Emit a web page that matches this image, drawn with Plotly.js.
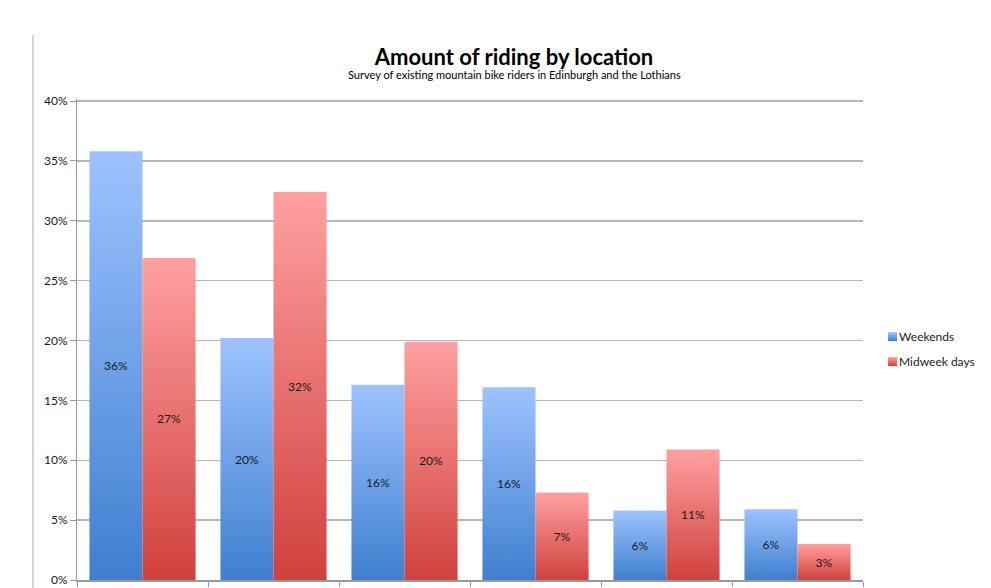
<!DOCTYPE html>
<html>
<head>
<meta charset="utf-8">
<script src="https://cdn.plot.ly/plotly-3.0.1.min.js"></script>
<style>
html,body{margin:0;padding:0;background:#fff;}
#chart{width:991px;height:588px;}
</style>
</head>
<body>
<div id="chart"></div>
<script>
var categories = ["Location 1", "Location 2", "Location 3", "Location 4", "Location 5", "Location 6"];
var weekends = [35.8, 20.2, 16.3, 16.1, 5.8, 5.9];
var midweek = [26.9, 32.4, 19.9, 7.3, 10.9, 3.0];
var weekendLabels = ["36%", "20%", "16%", "16%", "6%", "6%"];
var midweekLabels = ["27%", "32%", "20%", "7%", "11%", "3%"];
var yTickVals = [0, 5, 10, 15, 20, 25, 30, 35, 40];
var yTickText = ["0%", "5%", "10%", "15%", "20%", "25%", "30%", "35%", "40%"];
var titleText = "Amount of riding by location";
var subtitleText = "Survey of existing mountain bike riders in Edinburgh and the Lothians";

var FONT = "Lato, 'Open Sans', sans-serif";

var traces = [
  {
    type: "bar", name: "Weekends", x: categories, y: weekends,
    text: weekendLabels, textposition: "inside", insidetextanchor: "middle",
    textangle: 0, constraintext: "none",
    textfont: {family: FONT, size: 12, color: "#1a1a1a"},
    marker: {color: "#6a9ee8", line: {width: 0}},
    legendgroup: "a", hoverinfo: "none"
  },
  {
    type: "bar", name: "Midweek days", x: categories, y: midweek,
    text: midweekLabels, textposition: "inside", insidetextanchor: "middle",
    textangle: 0, constraintext: "none",
    textfont: {family: FONT, size: 12, color: "#1a1a1a"},
    marker: {color: "#e87070", line: {width: 0}},
    legendgroup: "b", hoverinfo: "none"
  }
];

var layout = {
  width: 991, height: 588,
  margin: {l: 77, r: 128, t: 99, b: 8, pad: 0},
  paper_bgcolor: "#fff", plot_bgcolor: "#fff",
  font: {family: FONT, size: 12, color: "#222"},
  showlegend: true,
  barmode: "group", bargap: 0.19, bargroupgap: 0,
  title: {
    text: "<b>" + titleText + "</b>",
    x: 0.556, xanchor: "center", xref: "paper",
    y: 1 - 57 / 588, yanchor: "middle", yref: "container",
    font: {family: FONT, size: 22, color: "#000"}
  },
  annotations: [
    {text: subtitleText, xref: "paper", yref: "paper", x: 0.556, y: 1.05,
     xanchor: "center", yanchor: "middle", showarrow: false,
     font: {family: FONT, size: 11, color: "#000"}}
  ],
  xaxis: {
    type: "category", showticklabels: false, ticks: "outside", tickson: "boundaries",
    ticklen: 5, tickcolor: "#999", tickwidth: 1,
    showline: true, linecolor: "#999", linewidth: 1.5,
    showgrid: false, zeroline: false, fixedrange: true
  },
  yaxis: {
    range: [0, 40.17], tickvals: yTickVals, ticktext: yTickText,
    ticks: "outside", ticklen: 6, tickcolor: "#999",
    showline: true, linecolor: "#999", linewidth: 1,
    showgrid: true, gridcolor: "#b8b8b8", gridwidth: 1.5,
    zeroline: false, tickfont: {family: FONT, size: 12, color: "#1a1a1a"},
    fixedrange: true
  },
  legend: {
    x: 0.995, xanchor: "left", y: 0.48, yanchor: "middle",
    font: {family: FONT, size: 12, color: "#1a1a1a"},
    tracegroupgap: 6, itemwidth: 30, bgcolor: "rgba(0,0,0,0)"
  },
  shapes: [
    {type: "line", xref: "paper", yref: "paper", x0: -0.056, x1: -0.056, y0: -0.02, y1: 1.133,
     line: {color: "#aaa", width: 1}}
  ]
};

Plotly.newPlot("chart", traces, layout, {displayModeBar: false, staticPlot: true}).then(function(){
  var svg = document.querySelector("#chart svg.main-svg");
  var ns = "http://www.w3.org/2000/svg";
  var defs = svg.querySelector("defs") || svg.insertBefore(document.createElementNS(ns, "defs"), svg.firstChild);
  function grad(id, top, bottom){
    var g = document.createElementNS(ns, "linearGradient");
    g.setAttribute("id", id); g.setAttribute("x1", "0"); g.setAttribute("y1", "0");
    g.setAttribute("x2", "0"); g.setAttribute("y2", "1");
    var s1 = document.createElementNS(ns, "stop"); s1.setAttribute("offset", "0"); s1.setAttribute("stop-color", top);
    var s2 = document.createElementNS(ns, "stop"); s2.setAttribute("offset", "1"); s2.setAttribute("stop-color", bottom);
    g.appendChild(s1); g.appendChild(s2); defs.appendChild(g);
  }
  grad("gBlue", "#9dc3ff", "#3f7fcf");
  grad("gRed", "#ffa0a0", "#d0413d");
  var ids = ["url(#gBlue)", "url(#gRed)"];
  document.querySelectorAll("#chart .barlayer .trace").forEach(function(t, i){
    t.querySelectorAll("path").forEach(function(p){ p.style.fill = ids[i]; });
  });
  document.querySelectorAll("#chart .legend .traces").forEach(function(t, i){
    t.querySelectorAll(".legendpoints path").forEach(function(p){
      p.style.fill = ids[i];
      p.setAttribute("d", "M9,4.5H18V-4.5H9Z");
    });
  });
});
</script>
</body>
</html>
